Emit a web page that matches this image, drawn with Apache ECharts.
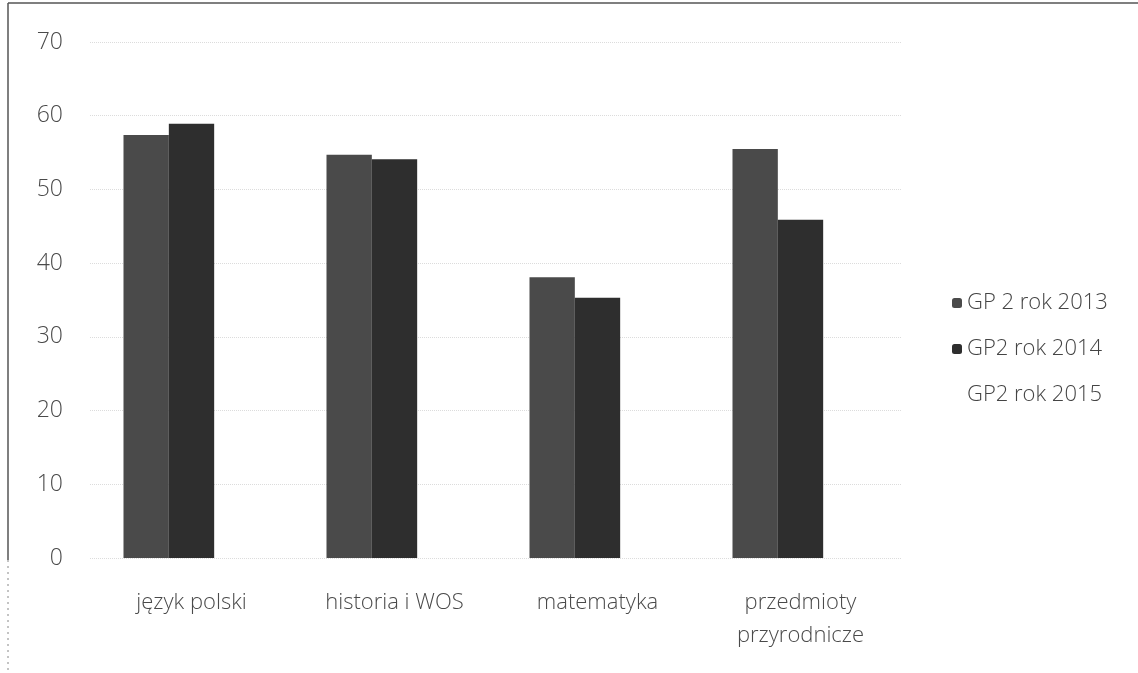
<!DOCTYPE html>
<html>
<head>
<meta charset="utf-8">
<script src="https://cdn.jsdelivr.net/npm/echarts@6/dist/echarts.min.js"></script>
<style>html,body{margin:0;padding:0;background:#fff;}#c{width:1138px;height:673px;}</style>
</head>
<body>
<div id="c"></div>
<script>
const categories = ['język polski', 'historia i WOS', 'matematyka', 'przedmioty\nprzyrodnicze'];
const seriesNames = ['GP 2 rok 2013', 'GP2 rok 2014', 'GP2 rok 2015'];
const values2013 = [57.4, 54.7, 38.1, 55.5];
const values2014 = [58.9, 54.1, 35.3, 45.9];
const values2015 = [null, null, null, null];
const yTicks = { min: 0, max: 70, interval: 10 };

const chart = echarts.init(document.getElementById('c'));
const font = '"Open Sans", Lato, sans-serif';
chart.setOption({
  animation: false,
  backgroundColor: '#fff',
  graphic: [
    { type: 'line', shape: { x1: 8, y1: 3, x2: 1138, y2: 3 }, style: { stroke: '#555', lineWidth: 1.5 } },
    { type: 'line', shape: { x1: 8, y1: 3, x2: 8, y2: 560 }, style: { stroke: '#555', lineWidth: 1.5 } },
    { type: 'line', shape: { x1: 8, y1: 560, x2: 8, y2: 673 }, style: { stroke: '#888', lineWidth: 1, lineDash: [2, 4] } }
  ],
  grid: { left: 90, right: 236, top: 42, bottom: 115 },
  legend: {
    orient: 'vertical',
    left: 947, top: 287,
    itemGap: 24,
    itemWidth: 10, itemHeight: 10,
    data: seriesNames,
    textStyle: { fontFamily: font, fontSize: 22, fontWeight: 300, color: '#444' }
  },
  xAxis: {
    type: 'category',
    data: categories,
    axisLine: { show: false },
    axisTick: { show: false },
    axisLabel: { margin: 28, fontFamily: font, fontSize: 22, fontWeight: 300, color: '#4a4a4a', lineHeight: 33 }
  },
  yAxis: {
    type: 'value',
    min: yTicks.min, max: yTicks.max, interval: yTicks.interval,
    axisLine: { show: false },
    axisTick: { show: false },
    axisLabel: { margin: 27, fontFamily: font, fontSize: 23, fontWeight: 300, color: '#4a4a4a' },
    splitLine: { lineStyle: { color: '#dcdcdc', type: 'dotted' } }
  },
  series: [
    { name: seriesNames[0], type: 'bar', data: values2013, barGap: '0%', barCategoryGap: '33%', itemStyle: { color: '#4a4a4a' } },
    { name: seriesNames[1], type: 'bar', data: values2014, barGap: '0%', barCategoryGap: '33%', itemStyle: { color: '#2e2e2e' } },
    { name: seriesNames[2], type: 'bar', data: values2015, barGap: '0%', barCategoryGap: '33%', itemStyle: { color: '#ffffff' } }
  ]
});
</script>
</body>
</html>
